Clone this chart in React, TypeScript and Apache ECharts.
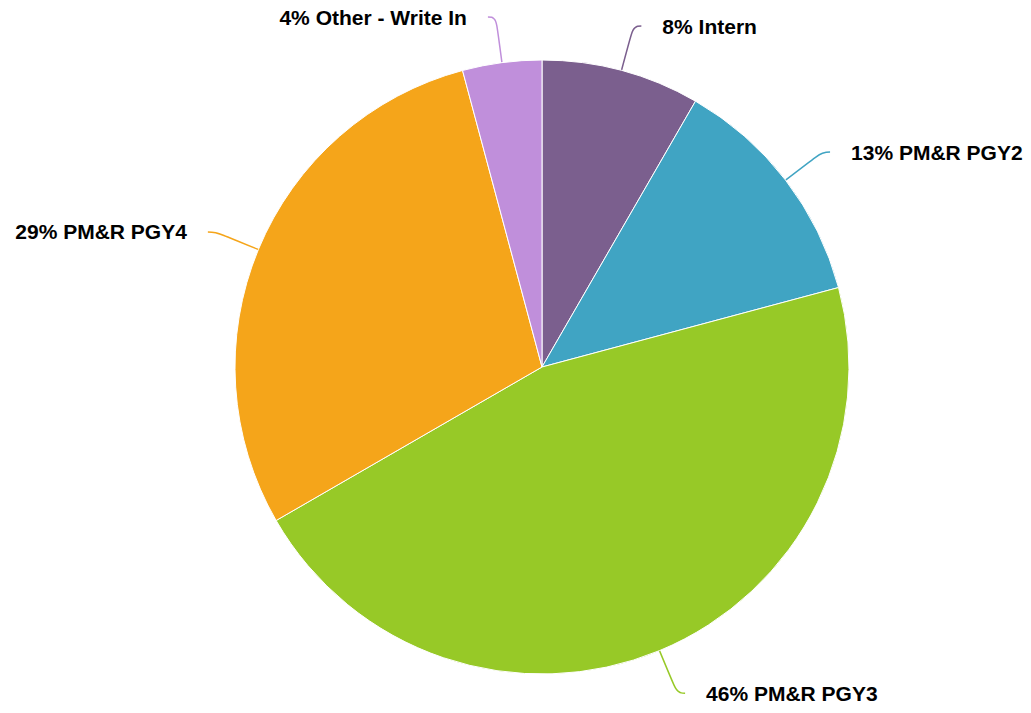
import React, { useEffect, useRef } from "react";
import * as echarts from "echarts";

const categories = ["Intern", "PM&R PGY2", "PM&R PGY3", "PM&R PGY4", "Other - Write In"];
const counts = [2, 3, 11, 7, 1];
const colors = ["#7B5F8E", "#40A4C3", "#97C927", "#F5A51A", "#C08FDB"];

export default function App() {
  const ref = useRef<HTMLDivElement>(null);
  useEffect(() => {
    if (!ref.current) return;
    const chart = echarts.init(ref.current, undefined, { renderer: "svg" });
    chart.setOption({
      animation: false,
      backgroundColor: "#ffffff",
      series: [
        {
          type: "pie",
          center: [542, 367],
          radius: 307,
          startAngle: 90,
          clockwise: true,
          avoidLabelOverlap: false,
          data: categories.map((name, i) => ({
            name,
            value: counts[i],
            itemStyle: { color: colors[i] },
          })),
          itemStyle: { borderColor: "#ffffff", borderWidth: 1 },
          label: {
            show: true,
            formatter: (p: any) => `${Math.round(p.percent)}% ${p.name}`,
            color: "#000000",
            fontFamily: "Liberation Sans, Arial, sans-serif",
            fontWeight: "bold",
            fontSize: 21,
            distanceToLabelLine: 21,
          },
          labelLine: {
            show: true,
            length: 46,
            length2: 8,
            smooth: 0.5,
            lineStyle: { width: 1.5 },
          },
          emphasis: { disabled: true },
        },
      ],
    });
    return () => chart.dispose();
  }, []);
  return (
    <div
      ref={ref}
      style={{ position: "fixed", left: 0, top: 0, width: 1031, height: 713 }}
    />
  );
}
